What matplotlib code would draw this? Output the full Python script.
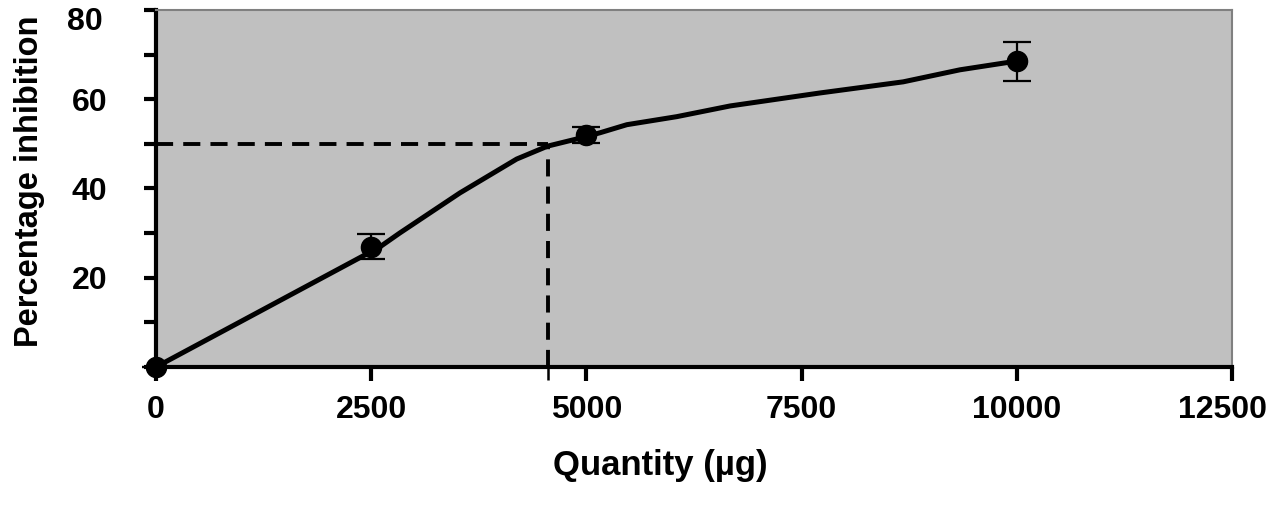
import matplotlib
matplotlib.use("Agg")
import matplotlib.pyplot as plt
import matplotlib.transforms as mtransforms
from matplotlib.ticker import FixedLocator, FuncFormatter

# Measured points (mean ± error)
quantity = [0, 2500, 5000, 10000]
inhibition = [0, 27.0, 52.0, 68.5]
error = [0, 2.7, 1.7, 4.3]

# Smoothed response curve
curve_x = [0, 2600, 2830, 3530, 4190, 4550, 4930, 5160, 5470, 6050, 6670, 7710, 8680, 9340, 9880, 10000]
curve_y = [0, 26.9, 30.0, 39.0, 46.6, 49.5, 51.3, 52.5, 54.3, 56.1, 58.5, 61.4, 63.9, 66.6, 68.2, 68.5]

# IC50 guide
ic50_x = 4550
ic50_y = 50

x_ticks = [0, 2500, 5000, 7500, 10000, 12500]
y_ticks = [0, 10, 20, 30, 40, 50, 60, 70, 80]
y_labelled = [20, 40, 60]
y_top_label = 80

plt.rcParams['font.family'] = ['Liberation Sans', 'DejaVu Sans']
plt.rcParams['font.weight'] = 'bold'

W, H = 1275, 511
fig = plt.figure(figsize=(W / 100, H / 100), dpi=100)
ax = fig.add_axes([156 / W, 1 - 367 / H, (1232 - 156) / W, (367 - 10) / H])
ax.set_facecolor('#c0c0c0')
ax.set_xlim(0, 12500)
ax.set_ylim(0, 80)

# guides
ax.plot([0, ic50_x], [ic50_y, ic50_y], color='black', lw=2.8,
        ls=(0, (4.4, 2.6)), zorder=2)
ax.plot([ic50_x, ic50_x], [0, ic50_y], color='black', lw=2.8,
        ls=(0, (4.4, 2.6)), zorder=2)

# curve
ax.plot(curve_x, curve_y, color='black', lw=3.6, zorder=3, solid_capstyle='round')

# points
ax.errorbar(quantity, inhibition, yerr=error, fmt='o', color='black',
            ms=14.5, capsize=10, elinewidth=1.6, capthick=1.6, zorder=4,
            clip_on=False)

# spines
for s in ['left', 'bottom']:
    ax.spines[s].set_color('black')
    ax.spines[s].set_linewidth(3)
for s in ['top', 'right']:
    ax.spines[s].set_color('#808080')
    ax.spines[s].set_linewidth(1.5)

ax.xaxis.set_major_locator(FixedLocator(x_ticks))
ax.xaxis.set_major_formatter(FuncFormatter(lambda v, p: f"{int(v)}"))
ax.xaxis.set_minor_locator(FixedLocator([ic50_x]))
ax.yaxis.set_major_locator(FixedLocator(y_ticks))
ax.yaxis.set_major_formatter(FuncFormatter(
    lambda v, p: f"{int(v)}" if int(round(v)) in y_labelled else ""))

ax.tick_params(axis='x', which='major', direction='out', length=10, width=3,
               pad=10, labelsize=23, colors='black')
ax.tick_params(axis='x', which='minor', direction='out', length=9, width=1.8,
               colors='black')
ax.tick_params(axis='y', which='major', direction='out', length=9, width=3,
               pad=26, labelsize=23, colors='black')
for lbl in ax.get_xticklabels() + ax.get_yticklabels():
    lbl.set_fontweight('bold')

# top y label sits slightly below its tick (as in the original)
ax.annotate(str(y_top_label), xy=(0, y_top_label), xycoords='data',
            xytext=(-38, -8.5), textcoords='offset points',
            ha='right', va='center', fontsize=23, fontweight='bold',
            annotation_clip=False)

# last x label nudged left, away from the figure edge
last_tick = ax.xaxis.get_major_ticks()[-1]
lab = last_tick.label1
lab.set_transform(lab.get_transform() +
                  mtransforms.ScaledTranslation(-9 / 100, 0, fig.dpi_scale_trans))

fig.text(30 / W, 1 - 181 / H, 'Percentage inhibition', rotation=90,
         ha='center', va='center', fontsize=23.5, fontweight='bold')
fig.text(660 / W, 1 - 466 / H, 'Quantity (µg)', ha='center', va='center',
         fontsize=25, fontweight='bold')

fig.savefig('out.png', dpi=100, facecolor='white')
